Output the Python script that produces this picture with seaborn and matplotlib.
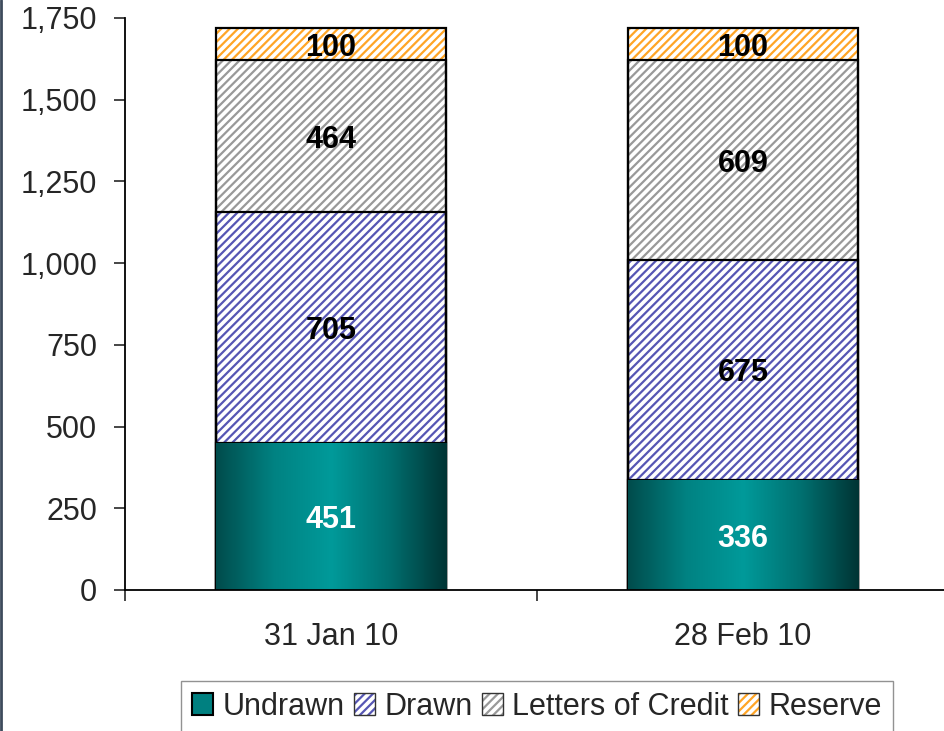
"Credit facility utilisation - stacked bars"

import numpy as np
import pandas as pd
import matplotlib.pyplot as plt
import seaborn as sns
from matplotlib.colors import LinearSegmentedColormap, to_rgba
from matplotlib.patches import Patch
from matplotlib.lines import Line2D
from matplotlib.ticker import FuncFormatter

# Data
dates = ['31 Jan 10', '28 Feb 10']
undrawn = [451, 336]
drawn = [705, 675]
letters_of_credit = [464, 609]
reserve = [100, 100]

df = pd.DataFrame({'Date': dates, 'Undrawn': undrawn, 'Drawn': drawn,
                   'Letters of Credit': letters_of_credit, 'Reserve': reserve})
series = ['Undrawn', 'Drawn', 'Letters of Credit', 'Reserve']
cum = df[series].cumsum(axis=1)

hatch_colors = {'Drawn': '#5656b4', 'Letters of Credit': '#999999', 'Reserve': '#ffa526'}
teal = LinearSegmentedColormap.from_list('teal', ['#004c4c', '#008282', '#009a9a', '#007070', '#003434'])

sns.set_style('white')
plt.rcParams['font.family'] = ['Liberation Sans', 'DejaVu Sans']
plt.rcParams['hatch.linewidth'] = 1.6

fig = plt.figure(figsize=(9.45, 7.31), dpi=100)
ax = fig.add_axes([0.1323, 0.1929, 0.872, 0.7825])
bw = 0.56
fs = 22

# Hatched layers, drawn from the top of the stack down
for name in ['Reserve', 'Letters of Credit', 'Drawn']:
    sns.barplot(x=df['Date'], y=cum[name], order=dates, ax=ax, width=bw,
                color='white', edgecolor=hatch_colors[name], linewidth=0,
                hatch='////', saturation=1)

# Undrawn with a horizontal gradient
n0 = len(ax.patches)
sns.barplot(x=df['Date'], y=cum['Undrawn'], order=dates, ax=ax, width=bw,
            color='white', linewidth=0, saturation=1)
grad = np.linspace(0, 1, 256).reshape(1, -1)
for p in ax.patches[n0:]:
    x0, w, h = p.get_x(), p.get_width(), p.get_height()
    im = ax.imshow(grad, cmap=teal, extent=(x0, x0 + w, 0, h), aspect='auto', zorder=p.get_zorder() + 0.1)
    im.set_clip_path(p)

# Black outlines for every segment
for name in series[::-1]:
    sns.barplot(x=df['Date'], y=cum[name], order=dates, ax=ax, width=bw,
                fill=False, color='black', linewidth=1.6)

# Value labels
for i in range(len(dates)):
    bottom = 0
    for name in series:
        h = df[name][i]
        ax.text(i, bottom + h / 2, f'{h}', ha='center', va='center_baseline', fontsize=fs,
                fontweight='bold', color='white' if name == 'Undrawn' else 'black', zorder=10)
        bottom += h

ax.set_xlim(-0.5, 1.5)
ax.set_ylim(0, 1750)
ax.set_yticks(np.arange(0, 1751, 250))
ax.yaxis.set_major_formatter(FuncFormatter(lambda v, _: f'{int(v):,}'))
ax.set_xticks([-0.5, 0.5, 1.5], minor=True)
ax.tick_params(axis='x', which='major', length=0, pad=23, labelsize=fs)
ax.tick_params(axis='x', which='minor', length=8, width=1.2, direction='out', bottom=True)
ax.tick_params(axis='y', length=8, width=1.2, direction='out', left=True, pad=12, labelsize=fs)
ax.set_xlabel('')
ax.set_ylabel('')
sns.despine(ax=ax)
for s in ['left', 'bottom']:
    ax.spines[s].set_linewidth(1.3)
    ax.spines[s].set_color('black')

# Legend
handles = [Patch(facecolor='#008080', edgecolor='black', linewidth=1.5, label='Undrawn')]
for name in ['Drawn', 'Letters of Credit', 'Reserve']:
    hp = Patch(facecolor='white', edgecolor='#333333', linewidth=1.0, hatch='////', label=name)
    hp._hatch_color = to_rgba(hatch_colors[name])
    handles.append(hp)
leg = fig.legend(handles=handles, loc='upper center', bbox_to_anchor=(0.568, 0.0684), ncol=4,
                 fontsize=fs, frameon=True, fancybox=False, handlelength=0.7, handleheight=0.75,
                 handletextpad=0.3, columnspacing=0.3, borderpad=0.35, borderaxespad=0)
leg.get_frame().set_edgecolor('#777777')
leg.get_frame().set_linewidth(1.0)

# Left border line
fig.add_artist(Line2D([0.001, 0.001], [0, 1], transform=fig.transFigure, color='#3d4b5c', linewidth=2))

fig.savefig('out.png', dpi=100)
